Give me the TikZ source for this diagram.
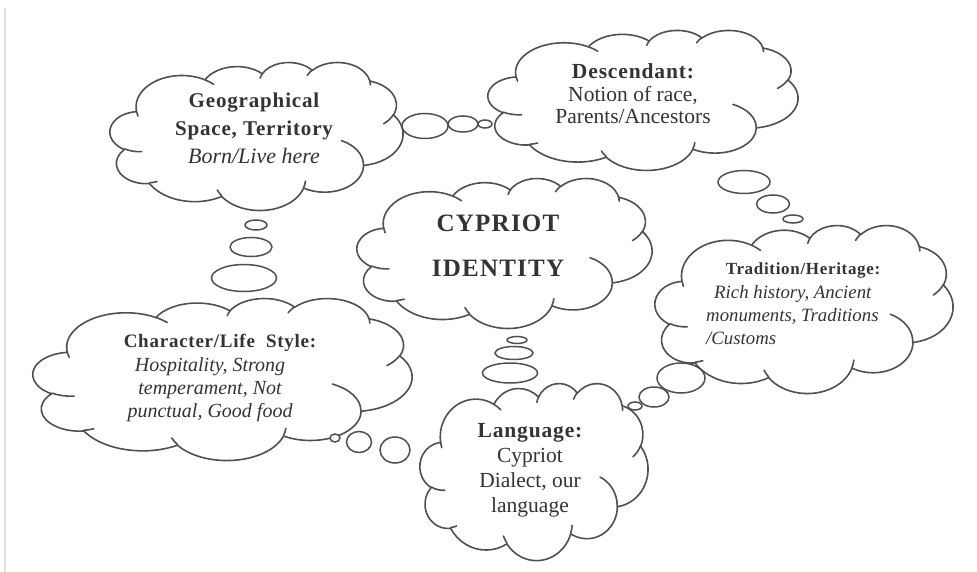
\documentclass[tikz,border=0pt]{standalone}
\usepackage{fontspec}
\setmainfont{Liberation Serif}
\usetikzlibrary{shapes.geometric}
\definecolor{linegray}{HTML}{505050}
\definecolor{textgray}{HTML}{333333}
\newcommand\hdg[1]{{\bfseries\addfontfeatures{LetterSpace=4}#1}}
% Word-like cloud: arc helper (radii in path units of 4320, angles in degrees)
\newcommand\carc[4]{%
  \pgfmathsetmacro\cca{atan2(#1*sin(#3), #2*cos(#3))}%
  \pgfmathsetmacro\ccb{atan2(#1*sin(#3+#4), #2*cos(#3+#4))}%
  \pgfmathsetmacro\ccb{(#4>0)*((\ccb<\cca)*(\ccb+360)+(\ccb>=\cca)*\ccb)+(#4<=0)*((\ccb>\cca)*(\ccb-360)+(\ccb<=\cca)*\ccb)}%
  \pgfpatharcaxes{\cca}{\ccb}{\pgfpointxy{#1*\csx}{0}}{\pgfpointxy{0}{#2*\csy}}%
}
\newcommand\cmove[2]{\pgfpathmoveto{\pgfpointxy{\cxo+#1*\csx}{\cyo+#2*\csy}}}
\newcommand\wcloud[4]{% x0 y0 w h (top-left and size)
  \pgfmathsetmacro\cxo{#1}\pgfmathsetmacro\cyo{#2}%
  \pgfmathsetmacro\csx{#3/4320}\pgfmathsetmacro\csy{#4/4320}%
  \begin{pgfscope}
  \pgfsetlinewidth{1.6pt}\pgfsetstrokecolor{linegray}\pgfsetfillcolor{white}%
  \pgfsetroundjoin\pgfsetroundcap
  \cmove{390}{1437}%
  \carc{675.3}{919.0}{-190.4875}{123.7805}%
  \carc{533.3}{726.7}{-144.1024}{89.9452}%
  \carc{436.5}{594.5}{-145.8079}{99.7230}%
  \carc{485.7}{659.5}{-130.9861}{117.2417}%
  \carc{533.3}{727.3}{-78.7089}{109.0269}%
  \carc{677.5}{922.0}{-46.2673}{130.2690}%
  \carc{578.5}{786.7}{0.6250}{114.0333}%
  \carc{675.2}{921.5}{22.4516}{115.1726}%
  \carc{772.0}{1054.3}{66.2426}{75.7110}%
  \carc{436.0}{591.8}{-274.9421}{146.7356}%
  \carc{434.5}{594.5}{-246.8285}{152.5189}%
  \pgfpathclose
  \pgfusepath{fill,stroke}%
  \cmove{469.3}{2617.7}\carc{434.5}{594.5}{86.7420}{26.4295}%
  \cmove{692.8}{3489.9}\carc{436.0}{591.8}{73.6105}{11.4475}%
  \cmove{1647.8}{3909.0}\carc{675.2}{921.5}{137.6242}{14.0811}%
  \cmove{2882.7}{3475.1}\carc{675.2}{921.5}{6.4533}{15.9984}%
  \cmove{3412.9}{2295.4}\carc{578.5}{786.7}{-70.2924}{70.9174}%
  \cmove{4179.8}{1535.4}\carc{533.3}{727.3}{30.3180}{27.7515}%
  \cmove{3832.4}{542.6}\carc{485.7}{659.5}{-13.7443}{14.8589}%
  \cmove{2907.8}{395.2}\carc{485.7}{659.5}{-149.1815}{18.1954}%
  \cmove{2214.1}{472.0}\carc{436.5}{594.5}{-163.4943}{17.6864}%
  \cmove{1400.0}{519.2}\carc{675.3}{919.0}{-66.7070}{12.3194}%
  \cmove{412.7}{1578.9}\carc{675.3}{919.0}{157.6544}{11.8582}%
  \pgfusepath{stroke}%
  \end{pgfscope}%
}
\tikzset{
  bubble/.style={ellipse, draw=linegray, line width=1.5pt, fill=white, inner sep=0pt},
  txt/.style={align=center, text=textgray, inner sep=0pt}
}
\begin{document}
\begin{tikzpicture}[x=1pt,y=-1pt]
\useasboundingbox (0,0) rectangle (977,572);
\fill[white] (0,0) rectangle (977,572);
\draw[gray!25, line width=1.5pt] (5,8) -- (5,572);
% clouds (top-left x, y, width, height)
\wcloud{110}{62}{293}{148}
\wcloud{488}{30}{310}{140}
\wcloud{357}{178}{295}{150}
\wcloud{655}{225}{298}{168}
\wcloud{33}{298}{379}{162}
\wcloud{420}{383}{228}{177}
% bubbles geo -> desc
\node[bubble, minimum width=46pt, minimum height=25pt] (gd1) at (425,126) {};
\node[bubble, minimum width=30pt, minimum height=16pt] (gd2) at (463,124) {};
\node[bubble, minimum width=14pt, minimum height=8pt] (gd3) at (485,124) {};
% desc -> trad
\node[bubble, minimum width=52pt, minimum height=23pt] (dt1) at (744,182) {};
\node[bubble, minimum width=33pt, minimum height=18pt] (dt2) at (773,204) {};
\node[bubble, minimum width=20pt, minimum height=8pt] (dt3) at (793,219) {};
% geo -> char
\node[bubble, minimum width=22pt, minimum height=10pt] (gc1) at (256,225) {};
\node[bubble, minimum width=42pt, minimum height=19pt] (gc2) at (251,247) {};
\node[bubble, minimum width=65pt, minimum height=27pt] (gc3) at (244,278) {};
% char -> lang
\node[bubble, minimum width=10pt, minimum height=8pt] (cl1) at (335,438) {};
\node[bubble, minimum width=25pt, minimum height=21pt] (cl2) at (359,442) {};
\node[bubble, minimum width=30pt, minimum height=26pt] (cl3) at (395,450) {};
% iden -> lang
\node[bubble, minimum width=20pt, minimum height=7pt] (il1) at (517,340) {};
\node[bubble, minimum width=38pt, minimum height=13pt] (il2) at (514,353) {};
\node[bubble, minimum width=55pt, minimum height=20pt] (il3) at (510,373) {};
% lang -> trad
\node[bubble, minimum width=14pt, minimum height=8pt] (lt1) at (635,406) {};
\node[bubble, minimum width=30pt, minimum height=20pt] (lt2) at (654,397) {};
\node[bubble, minimum width=48pt, minimum height=30pt] (lt3) at (681,378) {};
% texts
\node[txt, font=\fontsize{21}{28}\selectfont] (geoT) at (254,128)
  {\hdg{Geographical}\\ \hdg{Space, Territory}\\ {\fontsize{22}{28}\selectfont\itshape Born/Live here}};
\node[txt, font=\fontsize{21.5}{22.5}\selectfont] (descT) at (633,94)
  {\hdg{Descendant:}\\ Notion of race,\\ Parents/Ancestors};
\node[txt, font=\fontsize{25}{45}\selectfont] (idenT) at (498,246)
  {\bfseries\addfontfeatures{LetterSpace=5}CYPRIOT\\ \bfseries\addfontfeatures{LetterSpace=5}IDENTITY};
\node[txt, font=\fontsize{17}{22}\selectfont] (tradTa) at (803,270) {\hdg{Tradition/Heritage:}};
\node[txt, align=left, anchor=north west, font=\fontsize{18.8}{23}\selectfont\itshape] (tradTb) at (706,285)
  {\hspace*{8pt}Rich history, Ancient\\ monuments, Traditions\\ /Customs};
\node[txt, font=\fontsize{19}{23}\selectfont] (charTa) at (220,343) {\hdg{Character/Life\ \ Style:}};
\node[txt, font=\fontsize{20}{23}\selectfont\itshape] (charTb) at (210,390)
  {Hospitality, Strong\\ temperament, Not\\ punctual, Good food};
\node[txt, font=\fontsize{21.5}{25}\selectfont] (langT) at (530,470)
  {\hdg{Language:}\\ Cypriot\\ Dialect, our\\ language};
\end{tikzpicture}
\end{document}
